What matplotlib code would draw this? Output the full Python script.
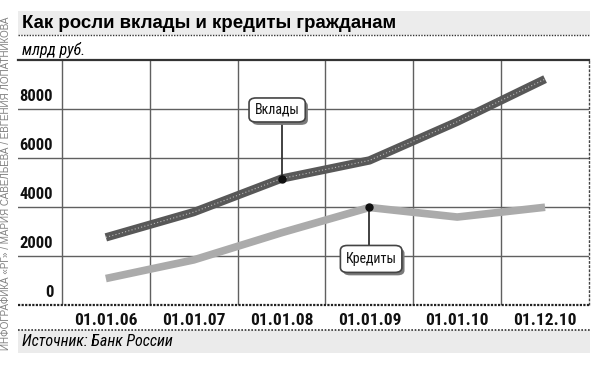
import matplotlib.pyplot as plt
from matplotlib.patches import Rectangle, FancyBboxPatch

dates = ["01.01.06", "01.01.07", "01.01.08", "01.01.09", "01.01.10", "01.12.10"]
deposits = [2760, 3790, 5160, 5900, 7480, 9220]
loans = [1080, 1840, 2950, 3980, 3590, 3990]
y_ticks = [0, 2000, 4000, 6000, 8000]

NARROW = ["Liberation Sans Narrow", "Roboto Condensed", "Roboto"]
DARK = "#585858"
LIGHT = "#ababab"

fig = plt.figure(figsize=(6, 3.84), dpi=100)
W, H = 600, 384


def fx(px):
    return px / W


def fy(py):
    return 1 - py / H


# title band
fig.patches.append(Rectangle((fx(18), fy(35)), fx(572), 24 / H, transform=fig.transFigure,
                             facecolor="#ececec", edgecolor="none", zorder=0))
fig.lines.append(plt.Line2D([fx(18), fx(590)], [fy(35), fy(35)], transform=fig.transFigure,
                            color="#333333", lw=1, ls=(0, (1, 1))))
fig.text(fx(22), fy(23), "Как росли вклады и кредиты гражданам", fontsize=13.4,
         fontweight="bold", family="Liberation Sans", va="center", ha="left")
fig.text(fx(22), fy(50), "млрд руб.", fontsize=11.5, style="italic", family=NARROW,
         va="center", ha="left")

# source band
fig.patches.append(Rectangle((fx(18), fy(353)), fx(572), 23 / H, transform=fig.transFigure,
                             facecolor="#ebebeb", edgecolor="none", zorder=0))
fig.lines.append(plt.Line2D([fx(18), fx(590)], [fy(330), fy(330)], transform=fig.transFigure,
                            color="#333333", lw=1.2, ls=(0, (1, 1))))
fig.text(fx(22), fy(342), "Источник: Банк России", fontsize=11.5, style="italic",
         family=NARROW, va="center", ha="left")

# credit on the left edge
fig.text(fx(6.5), fy(183), "ИНФОГРАФИКА «РГ» / МАРИЯ САВЕЛЬЕВА / ЕВГЕНИЯ ЛОПАТНИКОВА",
         fontsize=7.1, color="#808080", rotation=90, va="center", ha="center",
         family="Liberation Sans")

ax = fig.add_axes([fx(18), fy(305), fx(571), 245 / H])
x = list(range(len(dates)))
ax.set_xlim(-1, 5.5)
ax.set_ylim(0, 10000)
ax.set_xticks([])
ax.set_yticks([])
for s in ax.spines.values():
    s.set_visible(False)

# grid
for gx in [i - 0.5 for i in x[:-1]] + [4.5]:
    ax.plot([gx, gx], [0, 10000], color="#606060", lw=1, zorder=1)
for gy in y_ticks[1:]:
    ax.plot([-1, 5.5], [gy, gy], color="#606060", lw=1, zorder=1)
ax.plot([-1, 5.5], [10000, 10000], color="#333333", lw=1.6, zorder=1, clip_on=False)
ax.plot([-1, 5.5], [0, 0], color="#222222", lw=1.6, ls=(0, (1, 0.6)), zorder=1, clip_on=False)
ax.plot([5.5, 5.5], [0, 10000], color="#444444", lw=1, ls=(0, (2, 1)), zorder=1, clip_on=False)

# y labels
for v in y_ticks:
    ax.annotate(str(v), xy=(-0.6, v), xytext=(0, 3.5), textcoords="offset points",
                ha="right", va="bottom", fontsize=12, fontweight="bold", family=NARROW,
                color="#111111")

# x labels
for i, d in enumerate(dates):
    ax.annotate(d, xy=(i, 0), xytext=(0, -11), textcoords="offset points",
                ha="center", va="center", fontsize=12.5, fontweight="bold", family=NARROW,
                color="#111111", annotation_clip=False)

# series
ax.plot(x, loans, color=LIGHT, lw=5.5, solid_joinstyle="round", solid_capstyle="butt", zorder=3)
ax.plot(x, deposits, color=DARK, lw=6, solid_joinstyle="round", solid_capstyle="butt", zorder=3)
ax.plot(x, deposits, color="#b8b8b8", lw=0.8, ls=(0, (1, 2)), zorder=4)


def callout(label, xi, yv, bx, by, bw, bh):
    # bx, by in data coords for box centre
    ax.plot([xi, xi], [yv, by], color="#333333", lw=1.3, zorder=5)
    ax.plot([xi], [yv], "o", color="#111111", ms=5, zorder=6)
    shadow = FancyBboxPatch((bx - bw / 2 + 0.03, by - bh / 2 - 120), bw, bh,
                            boxstyle="round,pad=0,rounding_size=0.08",
                            mutation_aspect=2500, facecolor="#7a7a7a",
                            edgecolor="none", zorder=6)
    box = FancyBboxPatch((bx - bw / 2, by - bh / 2), bw, bh,
                         boxstyle="round,pad=0,rounding_size=0.08",
                         mutation_aspect=2500, facecolor="white",
                         edgecolor="#444444", lw=1.2, zorder=7)
    ax.add_patch(shadow)
    ax.add_patch(box)
    ax.text(bx, by, label, ha="center", va="center", fontsize=10, family=NARROW,
            color="#111111", zorder=8)


callout("Вклады", 2, deposits[2], 1.95, 7960, 0.64, 980)
callout("Кредиты", 3, loans[3], 3.02, 1880, 0.7, 1100)

fig.savefig("out.png", dpi=100)
